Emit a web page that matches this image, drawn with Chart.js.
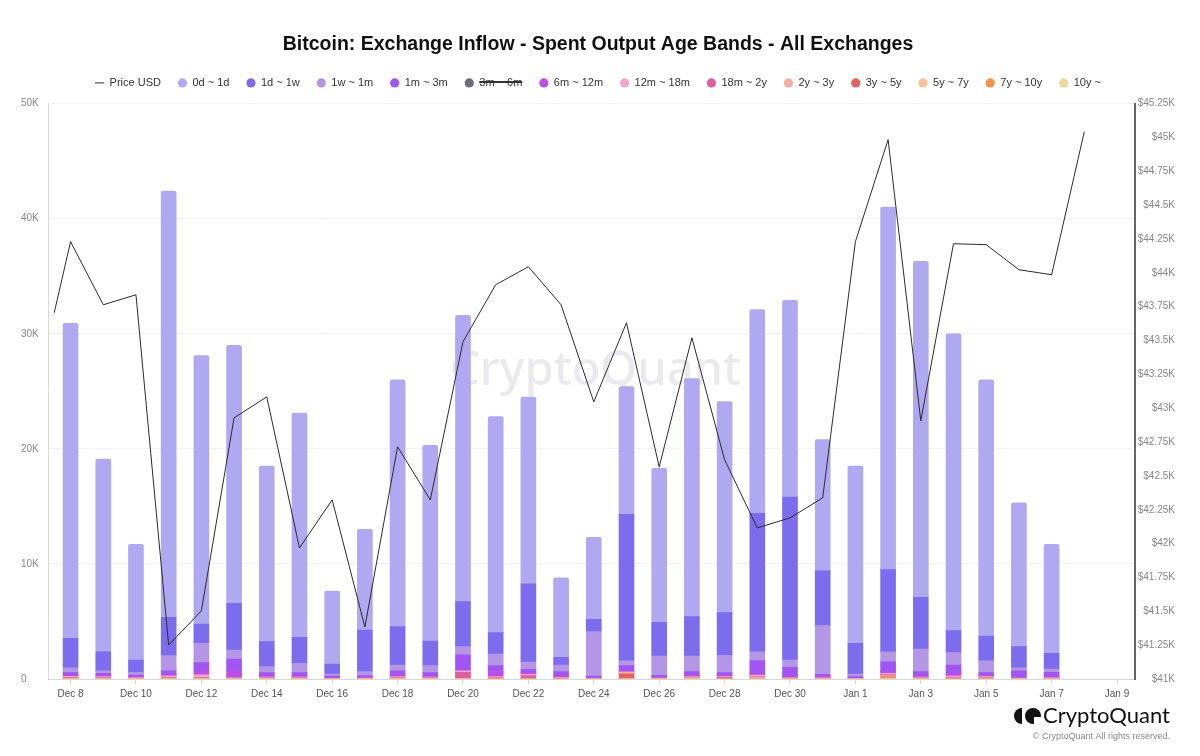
<!DOCTYPE html>
<html>
<head>
<meta charset="utf-8">
<script src="https://cdn.jsdelivr.net/npm/chart.js@4.4.1/dist/chart.umd.min.js"></script>
<style>
  html, body { margin: 0; padding: 0; background: #fff; }
  #wrap { position: relative; width: 1200px; height: 756px; }
</style>
</head>
<body>
<div id="wrap"><canvas id="chart" width="1200" height="756"></canvas></div>
<script>
// ---- data ----
const barDates = [
  '2023-12-08','2023-12-09','2023-12-10','2023-12-11','2023-12-12','2023-12-13','2023-12-14',
  '2023-12-15','2023-12-16','2023-12-17','2023-12-18','2023-12-19','2023-12-20','2023-12-21',
  '2023-12-22','2023-12-23','2023-12-24','2023-12-25','2023-12-26','2023-12-27','2023-12-28',
  '2023-12-29','2023-12-30','2023-12-31','2024-01-01','2024-01-02','2024-01-03','2024-01-04',
  '2024-01-05','2024-01-06','2024-01-07'
];
const priceDates = [
  '2023-12-07T12:00:00Z',
  '2023-12-08','2023-12-09','2023-12-10','2023-12-11','2023-12-12','2023-12-13','2023-12-14',
  '2023-12-15','2023-12-16','2023-12-17','2023-12-18','2023-12-19','2023-12-20','2023-12-21',
  '2023-12-22','2023-12-23','2023-12-24','2023-12-25','2023-12-26','2023-12-27','2023-12-28',
  '2023-12-29','2023-12-30','2023-12-31','2024-01-01','2024-01-02','2024-01-03','2024-01-04',
  '2024-01-05','2024-01-06','2024-01-07','2024-01-08'
];
const priceUSD = [
  43705, 44230, 43764, 43838, 41251, 41503, 42929, 43084, 41968, 42323, 41384, 42715,
  42323, 43491, 43912, 44045, 43764, 43047, 43631, 42567, 43520, 42619, 42116, 42190,
  42338, 44230, 44984, 42907, 44215, 44208, 44023, 43986, 45043
];
const xTickLabels = ['Dec 8','Dec 10','Dec 12','Dec 14','Dec 16','Dec 18','Dec 20','Dec 22','Dec 24',
  'Dec 26','Dec 28','Dec 30','Jan 1','Jan 3','Jan 5','Jan 7','Jan 9'];

const band0d1d  = [27360,16730,10050,37040,23320,22420,15250,19480,6350,8740,21450,17000,24880,18770,16240,6910,7110,11100,13370,20680,18330,17700,17100,11400,15400,31500,29200,25800,22260,12490,9470];
const band1d1w  = [2560,1650,1070,3330,1680,4060,2180,2260,870,3620,3330,2140,3910,1860,6780,670,1070,12730,2930,3420,3710,12030,14150,4760,2670,7130,4500,1910,2170,1830,1360];
const band1w1m  = [430,220,230,1330,1680,780,520,810,180,340,520,610,720,1010,640,580,3860,410,1680,1360,1510,780,630,4240,230,870,1960,1070,1020,280,290];
const band1m3m  = [200,200,150,350,720,1040,300,300,150,150,400,300,1310,510,290,390,160,520,200,340,250,1160,820,200,120,860,390,720,250,550,380];
const band3m6m  = [90,60,40,120,150,130,70,80,30,40,90,70,120,90,100,60,30,60,40,80,70,110,90,70,30,140,90,110,70,50,50];
const band6m12m = [120,100,80,80,330,600,80,80,40,80,100,80,60,450,150,100,40,20,50,100,60,100,80,80,30,150,80,250,60,80,80];
const band12m18m= [90,80,50,150,220,50,70,70,30,30,90,70,150,100,100,60,30,20,30,50,80,150,50,50,20,100,70,120,80,30,50];
const band18m2y = [60,50,30,60,80,30,50,50,20,20,60,50,520,60,250,50,20,20,20,40,100,50,40,40,20,100,50,80,50,20,40];
const band2y3y  = [50,40,20,40,40,10,30,30,10,20,30,30,30,30,30,30,10,130,20,30,30,100,30,30,10,100,30,30,50,20,30];
const band3y5y  = [20,20,10,10,20,5,10,10,0,0,10,10,10,10,20,10,0,440,0,10,30,10,0,0,0,80,10,20,20,0,0];
const band5y7y  = [10,10,10,10,10,5,10,10,0,0,10,10,10,0,0,0,0,10,0,20,0,20,0,0,0,40,10,0,20,0,0];
const band7y10y = [0,0,0,0,0,0,0,0,0,0,0,0,0,0,0,0,0,0,0,20,0,0,0,0,0,50,0,0,20,0,0];
const band10y   = [0,0,0,0,0,0,0,0,0,0,0,0,0,0,0,0,0,0,0,30,0,0,0,0,0,20,0,0,0,0,0];

// ---- helpers ----
const FONT = 'Arial, "Liberation Sans", Helvetica, sans-serif';
const day0 = Date.parse('2023-12-08');
const toDay = d => (Date.parse(d) - day0) / 864e5;

function barSet(label, values, color, order, extra) {
  return Object.assign({
    type: 'bar',
    label: label,
    data: values.map((v, i) => ({ x: toDay(barDates[i]), y: v })),
    backgroundColor: color,
    borderColor: color,
    borderWidth: 0,
    barThickness: 15,
    yAxisID: 'y',
    order: order,
    pointStyle: 'circle'
  }, extra || {});
}

const datasets = [
  {
    type: 'line',
    label: 'Price USD',
    data: priceUSD.map((v, i) => ({ x: toDay(priceDates[i]), y: v })),
    borderColor: '#2b2b2b',
    backgroundColor: '#2b2b2b',
    borderWidth: 1,
    pointRadius: 0,
    pointStyle: 'line',
    tension: 0,
    yAxisID: 'y1',
    order: 0
  },
  barSet('0d ~ 1d',   band0d1d,   '#b1a8f2', 13, { borderRadius: 2 }),
  barSet('1d ~ 1w',   band1d1w,   '#7d6cee', 12),
  barSet('1w ~ 1m',   band1w1m,   '#b397e6', 11),
  barSet('1m ~ 3m',   band1m3m,   '#a155f2', 10),
  barSet('3m ~ 6m',   band3m6m,   '#6b6a78', 9, { hidden: true }),
  barSet('6m ~ 12m',  band6m12m,  '#bb4ee3', 8),
  barSet('12m ~ 18m', band12m18m, '#f3a5c9', 7),
  barSet('18m ~ 2y',  band18m2y,  '#de5f9d', 6),
  barSet('2y ~ 3y',   band2y3y,   '#f4aea6', 5),
  barSet('3y ~ 5y',   band3y5y,   '#e56060', 4),
  barSet('5y ~ 7y',   band5y7y,   '#f5c29c', 3),
  barSet('7y ~ 10y',  band7y10y,  '#f4944c', 2),
  barSet('10y ~',     band10y,    '#ead99a', 1)
];

// watermark + footer logo
const decor = {
  id: 'decor',
  afterInit(chart) {
    // keep legend block to a fixed height so the plot top lines up
    const legend = chart.legend;
    const fit = legend.fit;
    legend.fit = function () { fit.call(this); this.height = 43.2; };
  },
  beforeDatasetsDraw(chart) {
    const { ctx, chartArea: a } = chart;
    ctx.save();
    ctx.font = '500 47px "Noto Sans", sans-serif';
    ctx.fillStyle = 'rgba(175,175,190,0.26)';
    ctx.textAlign = 'center';
    ctx.textBaseline = 'middle';
    ctx.fillText('CryptoQuant', (a.left + a.right) / 2 + 4, a.top + a.height * 0.465);
    ctx.restore();
  },
  afterDraw(chart) {
    const { ctx } = chart;
    ctx.save();
    ctx.fillStyle = '#111';
    // icon
    ctx.beginPath();
    ctx.arc(1022, 716, 8, Math.PI / 2, Math.PI * 1.5);
    ctx.closePath();
    ctx.fill();
    ctx.beginPath();
    ctx.arc(1033, 716, 8, 0, Math.PI * 2);
    ctx.fill();
    ctx.fillStyle = '#fff';
    ctx.fillRect(1034, 717, 8, 8);
    ctx.fillStyle = '#111';
    ctx.font = '22px Lato, "Noto Sans", sans-serif';
    ctx.textAlign = 'right';
    ctx.textBaseline = 'middle';
    ctx.fillText('CryptoQuant', 1170, 716);
    ctx.font = '9px ' + FONT;
    ctx.fillStyle = '#8a8a8a';
    ctx.fillText('\u00a9 CryptoQuant All rights reserved.', 1170, 737);
    ctx.restore();
  }
};

new Chart(document.getElementById('chart'), {
  data: { datasets },
  plugins: [decor],
  options: {
    responsive: false,
    animation: false,
    layout: { padding: { left: 21, right: 25, top: 0, bottom: 0 } },
    plugins: {
      tooltip: { enabled: false },
      title: {
        display: true,
        text: 'Bitcoin: Exchange Inflow - Spent Output Age Bands - All Exchanges',
        color: '#111',
        font: { family: FONT, size: 19.5, weight: 'bold' },
        padding: { top: 33, bottom: 4 }
      },
      legend: {
        display: true,
        position: 'top',
        labels: {
          usePointStyle: true,
          boxWidth: 9,
          boxHeight: 6.5,
          padding: 17,
          color: '#333',
          font: { family: FONT, size: 11 },
          sort: (a, b) => a.datasetIndex - b.datasetIndex
        }
      }
    },
    scales: {
      x: {
        type: 'linear',
        stacked: true,
        offset: false,
        min: -0.69,
        max: 32.55,
        afterBuildTicks: s => { s.ticks = xTickLabels.map((_, i) => ({ value: i * 2 })); },
        afterFit: s => { s.height = 77; },
        grid: { offset: false, drawOnChartArea: false, drawTicks: true, tickLength: 5, tickColor: '#d8d8d8' },
        border: { display: true, color: '#d8d8d8', width: 1 },
        ticks: {
          autoSkip: false,
          maxRotation: 0,
          padding: 4,
          color: '#555',
          font: { family: FONT, size: 10 },
          callback: (v) => xTickLabels[Math.round(v / 2)]
        }
      },
      y: {
        position: 'left',
        stacked: true,
        min: 0,
        max: 50000,
        afterFit: s => { s.width = 27; },
        grid: { color: '#f2f2f2', drawTicks: false },
        border: { display: true, color: '#d8d8d8', width: 1 },
        ticks: {
          stepSize: 10000,
          crossAlign: 'far',
          color: '#888',
          font: { family: FONT, size: 10 },
          callback: v => v === 0 ? '0' : (v / 1000) + 'K'
        }
      },
      y1: {
        position: 'right',
        min: 41000,
        max: 45250,
        afterFit: s => { s.width = 40; },
        grid: { drawOnChartArea: false, drawTicks: false },
        border: { display: true, color: '#666', width: 2 },
        ticks: {
          stepSize: 250,
          crossAlign: 'far',
          color: '#888',
          font: { family: FONT, size: 10 },
          callback: v => '$' + (v / 1000) + 'K'
        }
      }
    }
  }
});
</script>
</body>
</html>
